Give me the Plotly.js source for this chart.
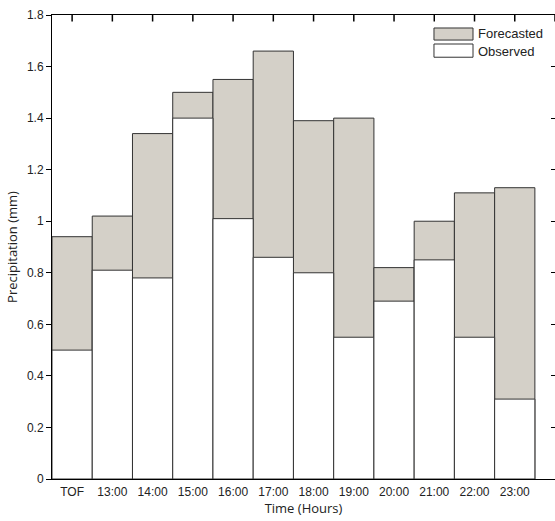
<!DOCTYPE html>
<html>
<head>
<meta charset="utf-8">
<script src="https://cdn.plot.ly/plotly-3.0.1.min.js"></script>
<style>html,body{margin:0;padding:0;background:#fff;}#chart{width:555px;height:521px;}</style>
</head>
<body>
<div id="chart"></div>
<script>
var categories = ["TOF","13:00","14:00","15:00","16:00","17:00","18:00","19:00","20:00","21:00","22:00","23:00"];
var forecasted = [0.94,1.02,1.34,1.50,1.55,1.66,1.39,1.40,0.82,1.00,1.11,1.13];
var observed   = [0.50,0.81,0.78,1.40,1.01,0.86,0.80,0.55,0.69,0.85,0.55,0.31];
var yTicks = [0,0.2,0.4,0.6,0.8,1,1.2,1.4,1.6,1.8];
var seriesNames = ["Forecasted","Observed"];
var seriesColors = ["#d4d0c8","#ffffff"];

var pos = categories.map(function(c,i){return i;});
var topTickPos = pos.concat([categories.length]);

var traces = [
  {type:'bar', name:seriesNames[0], x:pos, y:forecasted, width:1, showlegend:false,
   marker:{color:seriesColors[0], line:{color:'#333333', width:1}}, hoverinfo:'skip'},
  {type:'bar', name:seriesNames[1], x:pos, y:observed, width:1, showlegend:false,
   marker:{color:seriesColors[1], line:{color:'#333333', width:1}}, hoverinfo:'skip'},
  // invisible helper so the right-hand inside-tick axis is drawn
  {type:'scatter', mode:'none', x:pos, y:forecasted, xaxis:'x', yaxis:'y2', showlegend:false, hoverinfo:'skip'}
];

var fontTick = {family:'Arial, Liberation Sans, sans-serif', size:12, color:'#222'};
var fontTitle = {family:'Open Sans, sans-serif', size:13, color:'#222'};
var fontLegend = {family:'Arial, Liberation Sans, sans-serif', size:13, color:'#222'};

// legend drawn as swatches + labels (paper coordinates)
var legX0 = 0.7594, legX1 = 0.837, legTextX = 0.843;
var legRows = [[0.972,0.946,0.9591],[0.9375,0.909,0.9224]];
var shapes = [], annotations = [];
seriesNames.forEach(function(n,i){
  shapes.push({type:'rect', xref:'paper', yref:'paper', x0:legX0, x1:legX1, y0:legRows[i][1], y1:legRows[i][0],
               fillcolor:seriesColors[i], line:{color:'#333333', width:1}});
  annotations.push({xref:'paper', yref:'paper', x:legTextX, y:legRows[i][2], xanchor:'left', yanchor:'middle',
               text:n, showarrow:false, font:fontLegend});
});
// inward tick marks along the top edge, at the category positions
topTickPos.forEach(function(p){
  shapes.push({type:'line', xref:'x', yref:'paper', x0:p, x1:p, y0:1.0, y1:0.986, layer:'above',
               line:{color:'#000000', width:1.5}});
});

var layout = {
  width:555, height:521,
  margin:{l:52, r:0, t:15, b:42},
  paper_bgcolor:'#fff', plot_bgcolor:'#fff',
  barmode:'overlay',
  showlegend:false,
  shapes:shapes, annotations:annotations,
  xaxis:{range:[-0.5,12], tickmode:'array', tickvals:pos, ticktext:categories,
         ticks:'', showgrid:false, zeroline:false, showline:true, linecolor:'#000', linewidth:1,
         mirror:true, tickfont:fontTick, ticklabelstandoff:2,
         title:{text:'Time (Hours)', font:fontTitle, standoff:5}},
  yaxis:{range:[0,1.8], tickmode:'array', tickvals:yTicks, ticks:'outside', ticklen:5, tickcolor:'#000',
         showgrid:false, zeroline:false, showline:true, linecolor:'#000', linewidth:1, mirror:true,
         tickfont:fontTick, title:{text:'Precipitation (mm)', font:fontTitle, standoff:6}},
  yaxis2:{overlaying:'y', side:'right', anchor:'x', range:[0,1.8], tickmode:'array', tickvals:yTicks,
          ticks:'inside', ticklen:4, tickcolor:'#000', showticklabels:false, showgrid:false, zeroline:false, showline:false}
};

Plotly.newPlot('chart', traces, layout, {staticPlot:true});
</script>
</body>
</html>
